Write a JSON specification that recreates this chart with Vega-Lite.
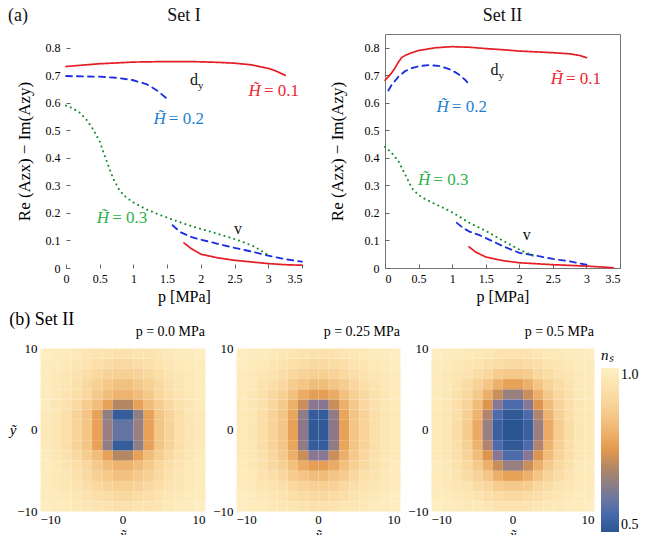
{
"$schema":"https://vega.github.io/schema/vega-lite/v6.json",
"background":"white",
"padding":{"left":8,"top":6,"right":2,"bottom":0},
"config":{
 "font":"Liberation Serif",
 "view":{"stroke":"#777","strokeWidth":1},
 "axis":{"labelFont":"Liberation Serif","titleFont":"Liberation Serif","labelColor":"#000","titleColor":"#000","grid":false,"domain":false,"tickColor":"#666","labelFontSize":12,"titleFontSize":17,"titleFontWeight":"normal","labelOverlap":false},
 "title":{"font":"Liberation Serif","fontWeight":"normal","color":"#000"},
 "legend":{"labelFont":"Liberation Serif","titleFont":"Liberation Serif","labelColor":"#000","titleColor":"#000","titleFontWeight":"normal"}
},
"resolve":{"scale":{"color":"independent","strokeDash":"independent","strokeWidth":"independent"},"legend":{"color":"independent"}},
"spacing":6,
"datasets":{
"lines":[
{"s":"I","c":"r1","h":"0.1","x":0,"y":0.732},{"s":"I","c":"r1","h":"0.1","x":0.25,"y":0.737},{"s":"I","c":"r1","h":"0.1","x":0.5,"y":0.742},{"s":"I","c":"r1","h":"0.1","x":0.75,"y":0.745},{"s":"I","c":"r1","h":"0.1","x":1,"y":0.748},{"s":"I","c":"r1","h":"0.1","x":1.25,"y":0.749},{"s":"I","c":"r1","h":"0.1","x":1.5,"y":0.75},{"s":"I","c":"r1","h":"0.1","x":1.75,"y":0.75},{"s":"I","c":"r1","h":"0.1","x":2,"y":0.749},{"s":"I","c":"r1","h":"0.1","x":2.25,"y":0.747},{"s":"I","c":"r1","h":"0.1","x":2.5,"y":0.744},{"s":"I","c":"r1","h":"0.1","x":2.75,"y":0.738},{"s":"I","c":"r1","h":"0.1","x":3,"y":0.725},{"s":"I","c":"r1","h":"0.1","x":3.1,"y":0.717},{"s":"I","c":"r1","h":"0.1","x":3.25,"y":0.7},
{"s":"I","c":"r2","h":"0.1","x":1.75,"y":0.091},{"s":"I","c":"r2","h":"0.1","x":1.85,"y":0.072},{"s":"I","c":"r2","h":"0.1","x":2,"y":0.05},{"s":"I","c":"r2","h":"0.1","x":2.25,"y":0.037},{"s":"I","c":"r2","h":"0.1","x":2.5,"y":0.028},{"s":"I","c":"r2","h":"0.1","x":2.75,"y":0.022},{"s":"I","c":"r2","h":"0.1","x":3,"y":0.016},{"s":"I","c":"r2","h":"0.1","x":3.25,"y":0.012},{"s":"I","c":"r2","h":"0.1","x":3.5,"y":0.01},
{"s":"I","c":"b1","h":"0.2","x":0,"y":0.697},{"s":"I","c":"b1","h":"0.2","x":0.25,"y":0.696},{"s":"I","c":"b1","h":"0.2","x":0.5,"y":0.695},{"s":"I","c":"b1","h":"0.2","x":0.75,"y":0.691},{"s":"I","c":"b1","h":"0.2","x":1,"y":0.682},{"s":"I","c":"b1","h":"0.2","x":1.2,"y":0.667},{"s":"I","c":"b1","h":"0.2","x":1.35,"y":0.645},{"s":"I","c":"b1","h":"0.2","x":1.5,"y":0.615},
{"s":"I","c":"b2","h":"0.2","x":1.58,"y":0.155},{"s":"I","c":"b2","h":"0.2","x":1.7,"y":0.13},{"s":"I","c":"b2","h":"0.2","x":1.85,"y":0.113},{"s":"I","c":"b2","h":"0.2","x":2,"y":0.103},{"s":"I","c":"b2","h":"0.2","x":2.25,"y":0.088},{"s":"I","c":"b2","h":"0.2","x":2.5,"y":0.073},{"s":"I","c":"b2","h":"0.2","x":2.75,"y":0.06},{"s":"I","c":"b2","h":"0.2","x":3,"y":0.045},{"s":"I","c":"b2","h":"0.2","x":3.25,"y":0.032},{"s":"I","c":"b2","h":"0.2","x":3.5,"y":0.023},
{"s":"I","c":"g","h":"0.3","x":0,"y":0.59},{"s":"I","c":"g","h":"0.3","x":0.1,"y":0.58},{"s":"I","c":"g","h":"0.3","x":0.2,"y":0.565},{"s":"I","c":"g","h":"0.3","x":0.3,"y":0.54},{"s":"I","c":"g","h":"0.3","x":0.4,"y":0.505},{"s":"I","c":"g","h":"0.3","x":0.5,"y":0.46},{"s":"I","c":"g","h":"0.3","x":0.6,"y":0.39},{"s":"I","c":"g","h":"0.3","x":0.7,"y":0.325},{"s":"I","c":"g","h":"0.3","x":0.8,"y":0.28},{"s":"I","c":"g","h":"0.3","x":0.9,"y":0.255},{"s":"I","c":"g","h":"0.3","x":1,"y":0.238},{"s":"I","c":"g","h":"0.3","x":1.2,"y":0.212},{"s":"I","c":"g","h":"0.3","x":1.4,"y":0.192},{"s":"I","c":"g","h":"0.3","x":1.6,"y":0.174},{"s":"I","c":"g","h":"0.3","x":1.8,"y":0.157},{"s":"I","c":"g","h":"0.3","x":2,"y":0.142},{"s":"I","c":"g","h":"0.3","x":2.2,"y":0.128},{"s":"I","c":"g","h":"0.3","x":2.4,"y":0.113},{"s":"I","c":"g","h":"0.3","x":2.6,"y":0.097},{"s":"I","c":"g","h":"0.3","x":2.8,"y":0.077},{"s":"I","c":"g","h":"0.3","x":2.9,"y":0.062},{"s":"I","c":"g","h":"0.3","x":3,"y":0.047},
{"s":"II","c":"r1","h":"0.1","x":0,"y":0.682},{"s":"II","c":"r1","h":"0.1","x":0.05,"y":0.695},{"s":"II","c":"r1","h":"0.1","x":0.1,"y":0.709},{"s":"II","c":"r1","h":"0.1","x":0.15,"y":0.727},{"s":"II","c":"r1","h":"0.1","x":0.2,"y":0.748},{"s":"II","c":"r1","h":"0.1","x":0.25,"y":0.765},{"s":"II","c":"r1","h":"0.1","x":0.3,"y":0.772},{"s":"II","c":"r1","h":"0.1","x":0.4,"y":0.782},{"s":"II","c":"r1","h":"0.1","x":0.5,"y":0.79},{"s":"II","c":"r1","h":"0.1","x":0.75,"y":0.8},{"s":"II","c":"r1","h":"0.1","x":1,"y":0.804},{"s":"II","c":"r1","h":"0.1","x":1.25,"y":0.802},{"s":"II","c":"r1","h":"0.1","x":1.5,"y":0.797},{"s":"II","c":"r1","h":"0.1","x":1.75,"y":0.793},{"s":"II","c":"r1","h":"0.1","x":2,"y":0.788},{"s":"II","c":"r1","h":"0.1","x":2.25,"y":0.785},{"s":"II","c":"r1","h":"0.1","x":2.5,"y":0.782},{"s":"II","c":"r1","h":"0.1","x":2.75,"y":0.778},{"s":"II","c":"r1","h":"0.1","x":2.9,"y":0.772},{"s":"II","c":"r1","h":"0.1","x":3,"y":0.764},
{"s":"II","c":"r2","h":"0.1","x":1.25,"y":0.077},{"s":"II","c":"r2","h":"0.1","x":1.35,"y":0.058},{"s":"II","c":"r2","h":"0.1","x":1.5,"y":0.04},{"s":"II","c":"r2","h":"0.1","x":1.75,"y":0.027},{"s":"II","c":"r2","h":"0.1","x":2,"y":0.019},{"s":"II","c":"r2","h":"0.1","x":2.5,"y":0.012},{"s":"II","c":"r2","h":"0.1","x":3,"y":0.007},{"s":"II","c":"r2","h":"0.1","x":3.4,"y":0.001},
{"s":"II","c":"b1","h":"0.2","x":0.05,"y":0.645},{"s":"II","c":"b1","h":"0.2","x":0.1,"y":0.665},{"s":"II","c":"b1","h":"0.2","x":0.15,"y":0.68},{"s":"II","c":"b1","h":"0.2","x":0.2,"y":0.695},{"s":"II","c":"b1","h":"0.2","x":0.3,"y":0.715},{"s":"II","c":"b1","h":"0.2","x":0.4,"y":0.726},{"s":"II","c":"b1","h":"0.2","x":0.5,"y":0.733},{"s":"II","c":"b1","h":"0.2","x":0.65,"y":0.737},{"s":"II","c":"b1","h":"0.2","x":0.8,"y":0.734},{"s":"II","c":"b1","h":"0.2","x":0.9,"y":0.727},{"s":"II","c":"b1","h":"0.2","x":1,"y":0.718},{"s":"II","c":"b1","h":"0.2","x":1.1,"y":0.703},{"s":"II","c":"b1","h":"0.2","x":1.2,"y":0.682},{"s":"II","c":"b1","h":"0.2","x":1.25,"y":0.667},
{"s":"II","c":"b2","h":"0.2","x":1.07,"y":0.164},{"s":"II","c":"b2","h":"0.2","x":1.15,"y":0.148},{"s":"II","c":"b2","h":"0.2","x":1.25,"y":0.133},{"s":"II","c":"b2","h":"0.2","x":1.4,"y":0.12},{"s":"II","c":"b2","h":"0.2","x":1.5,"y":0.109},{"s":"II","c":"b2","h":"0.2","x":1.75,"y":0.08},{"s":"II","c":"b2","h":"0.2","x":2,"y":0.055},{"s":"II","c":"b2","h":"0.2","x":2.25,"y":0.045},{"s":"II","c":"b2","h":"0.2","x":2.5,"y":0.033},{"s":"II","c":"b2","h":"0.2","x":2.75,"y":0.024},{"s":"II","c":"b2","h":"0.2","x":3,"y":0.012},
{"s":"II","c":"g","h":"0.3","x":0,"y":0.44},{"s":"II","c":"g","h":"0.3","x":0.1,"y":0.418},{"s":"II","c":"g","h":"0.3","x":0.2,"y":0.388},{"s":"II","c":"g","h":"0.3","x":0.3,"y":0.34},{"s":"II","c":"g","h":"0.3","x":0.4,"y":0.29},{"s":"II","c":"g","h":"0.3","x":0.5,"y":0.265},{"s":"II","c":"g","h":"0.3","x":0.6,"y":0.25},{"s":"II","c":"g","h":"0.3","x":0.75,"y":0.232},{"s":"II","c":"g","h":"0.3","x":0.9,"y":0.215},{"s":"II","c":"g","h":"0.3","x":1,"y":0.202},{"s":"II","c":"g","h":"0.3","x":1.1,"y":0.188},{"s":"II","c":"g","h":"0.3","x":1.25,"y":0.165},{"s":"II","c":"g","h":"0.3","x":1.5,"y":0.135},{"s":"II","c":"g","h":"0.3","x":1.75,"y":0.1},{"s":"II","c":"g","h":"0.3","x":2,"y":0.067},{"s":"II","c":"g","h":"0.3","x":2.2,"y":0.045}
],
"labs":[
{"s":"I","k":"H","h":"t0.1","x":2.92,"y":0.644,"v":"= 0.1"},
{"s":"I","k":"H","h":"t0.2","x":1.51,"y":0.542,"v":"= 0.2"},
{"s":"I","k":"H","h":"t0.3","x":0.67,"y":0.182,"v":"= 0.3"},
{"s":"I","k":"d","h":"k","x":1.9,"y":0.684,"v":"d"},
{"s":"I","k":"v","h":"k","x":2.55,"y":0.142,"v":"v"},
{"s":"I","k":"T","h":"k","x":1.75,"y":0.916,"v":"Set I"},
{"s":"I","k":"A","h":"k","x":-0.71,"y":0.916,"v":"(a)"},
{"s":"II","k":"H","h":"t0.1","x":2.68,"y":0.688,"v":"= 0.1"},
{"s":"II","k":"H","h":"t0.2","x":0.98,"y":0.584,"v":"= 0.2"},
{"s":"II","k":"H","h":"t0.3","x":0.705,"y":0.321,"v":"= 0.3"},
{"s":"II","k":"d","h":"k","x":1.63,"y":0.718,"v":"d"},
{"s":"II","k":"v","h":"k","x":2.11,"y":0.121,"v":"v"},
{"s":"II","k":"T","h":"k","x":1.75,"y":0.916,"v":"Set II"}
],
"h1":[
{"x":-10,"y":-10,"n":0.99},{"x":-8.75,"y":-10,"n":0.98},{"x":-7.5,"y":-10,"n":0.98},{"x":-6.25,"y":-10,"n":0.97},{"x":-5,"y":-10,"n":0.96},{"x":-3.75,"y":-10,"n":0.95},{"x":-2.5,"y":-10,"n":0.95},{"x":-1.25,"y":-10,"n":0.94},{"x":0,"y":-10,"n":0.94},{"x":1.25,"y":-10,"n":0.95},{"x":2.5,"y":-10,"n":0.95},{"x":3.75,"y":-10,"n":0.96},{"x":5,"y":-10,"n":0.97},{"x":6.25,"y":-10,"n":0.98},{"x":7.5,"y":-10,"n":0.98},{"x":8.75,"y":-10,"n":0.99},
{"x":-10,"y":-8.75,"n":0.98},{"x":-8.75,"y":-8.75,"n":0.98},{"x":-7.5,"y":-8.75,"n":0.97},{"x":-6.25,"y":-8.75,"n":0.96},{"x":-5,"y":-8.75,"n":0.95},{"x":-3.75,"y":-8.75,"n":0.93},{"x":-2.5,"y":-8.75,"n":0.92},{"x":-1.25,"y":-8.75,"n":0.91},{"x":0,"y":-8.75,"n":0.91},{"x":1.25,"y":-8.75,"n":0.92},{"x":2.5,"y":-8.75,"n":0.93},{"x":3.75,"y":-8.75,"n":0.95},{"x":5,"y":-8.75,"n":0.96},{"x":6.25,"y":-8.75,"n":0.97},{"x":7.5,"y":-8.75,"n":0.98},{"x":8.75,"y":-8.75,"n":0.98},
{"x":-10,"y":-7.5,"n":0.98},{"x":-8.75,"y":-7.5,"n":0.97},{"x":-7.5,"y":-7.5,"n":0.96},{"x":-6.25,"y":-7.5,"n":0.95},{"x":-5,"y":-7.5,"n":0.93},{"x":-3.75,"y":-7.5,"n":0.91},{"x":-2.5,"y":-7.5,"n":0.89},{"x":-1.25,"y":-7.5,"n":0.88},{"x":0,"y":-7.5,"n":0.88},{"x":1.25,"y":-7.5,"n":0.89},{"x":2.5,"y":-7.5,"n":0.91},{"x":3.75,"y":-7.5,"n":0.93},{"x":5,"y":-7.5,"n":0.95},{"x":6.25,"y":-7.5,"n":0.96},{"x":7.5,"y":-7.5,"n":0.97},{"x":8.75,"y":-7.5,"n":0.98},
{"x":-10,"y":-6.25,"n":0.98},{"x":-8.75,"y":-6.25,"n":0.97},{"x":-7.5,"y":-6.25,"n":0.96},{"x":-6.25,"y":-6.25,"n":0.94},{"x":-5,"y":-6.25,"n":0.91},{"x":-3.75,"y":-6.25,"n":0.88},{"x":-2.5,"y":-6.25,"n":0.86},{"x":-1.25,"y":-6.25,"n":0.84},{"x":0,"y":-6.25,"n":0.84},{"x":1.25,"y":-6.25,"n":0.86},{"x":2.5,"y":-6.25,"n":0.88},{"x":3.75,"y":-6.25,"n":0.91},{"x":5,"y":-6.25,"n":0.94},{"x":6.25,"y":-6.25,"n":0.96},{"x":7.5,"y":-6.25,"n":0.97},{"x":8.75,"y":-6.25,"n":0.98},
{"x":-10,"y":-5,"n":0.98},{"x":-8.75,"y":-5,"n":0.97},{"x":-7.5,"y":-5,"n":0.95},{"x":-6.25,"y":-5,"n":0.93},{"x":-5,"y":-5,"n":0.9},{"x":-3.75,"y":-5,"n":0.86},{"x":-2.5,"y":-5,"n":0.83},{"x":-1.25,"y":-5,"n":0.81},{"x":0,"y":-5,"n":0.81},{"x":1.25,"y":-5,"n":0.83},{"x":2.5,"y":-5,"n":0.86},{"x":3.75,"y":-5,"n":0.9},{"x":5,"y":-5,"n":0.93},{"x":6.25,"y":-5,"n":0.95},{"x":7.5,"y":-5,"n":0.97},{"x":8.75,"y":-5,"n":0.98},
{"x":-10,"y":-3.75,"n":0.98},{"x":-8.75,"y":-3.75,"n":0.96},{"x":-7.5,"y":-3.75,"n":0.94},{"x":-6.25,"y":-3.75,"n":0.91},{"x":-5,"y":-3.75,"n":0.87},{"x":-3.75,"y":-3.75,"n":0.83},{"x":-2.5,"y":-3.75,"n":0.77},{"x":-1.25,"y":-3.75,"n":0.7},{"x":0,"y":-3.75,"n":0.7},{"x":1.25,"y":-3.75,"n":0.77},{"x":2.5,"y":-3.75,"n":0.83},{"x":3.75,"y":-3.75,"n":0.87},{"x":5,"y":-3.75,"n":0.91},{"x":6.25,"y":-3.75,"n":0.94},{"x":7.5,"y":-3.75,"n":0.96},{"x":8.75,"y":-3.75,"n":0.98},
{"x":-10,"y":-2.5,"n":0.97},{"x":-8.75,"y":-2.5,"n":0.96},{"x":-7.5,"y":-2.5,"n":0.93},{"x":-6.25,"y":-2.5,"n":0.89},{"x":-5,"y":-2.5,"n":0.85},{"x":-3.75,"y":-2.5,"n":0.77},{"x":-2.5,"y":-2.5,"n":0.65},{"x":-1.25,"y":-2.5,"n":0.52},{"x":0,"y":-2.5,"n":0.52},{"x":1.25,"y":-2.5,"n":0.65},{"x":2.5,"y":-2.5,"n":0.77},{"x":3.75,"y":-2.5,"n":0.85},{"x":5,"y":-2.5,"n":0.89},{"x":6.25,"y":-2.5,"n":0.93},{"x":7.5,"y":-2.5,"n":0.96},{"x":8.75,"y":-2.5,"n":0.97},
{"x":-10,"y":-1.25,"n":0.97},{"x":-8.75,"y":-1.25,"n":0.96},{"x":-7.5,"y":-1.25,"n":0.93},{"x":-6.25,"y":-1.25,"n":0.89},{"x":-5,"y":-1.25,"n":0.85},{"x":-3.75,"y":-1.25,"n":0.77},{"x":-2.5,"y":-1.25,"n":0.66},{"x":-1.25,"y":-1.25,"n":0.59},{"x":0,"y":-1.25,"n":0.59},{"x":1.25,"y":-1.25,"n":0.66},{"x":2.5,"y":-1.25,"n":0.77},{"x":3.75,"y":-1.25,"n":0.85},{"x":5,"y":-1.25,"n":0.89},{"x":6.25,"y":-1.25,"n":0.93},{"x":7.5,"y":-1.25,"n":0.96},{"x":8.75,"y":-1.25,"n":0.97},
{"x":-10,"y":0,"n":0.97},{"x":-8.75,"y":0,"n":0.96},{"x":-7.5,"y":0,"n":0.93},{"x":-6.25,"y":0,"n":0.89},{"x":-5,"y":0,"n":0.85},{"x":-3.75,"y":0,"n":0.77},{"x":-2.5,"y":0,"n":0.66},{"x":-1.25,"y":0,"n":0.59},{"x":0,"y":0,"n":0.59},{"x":1.25,"y":0,"n":0.66},{"x":2.5,"y":0,"n":0.77},{"x":3.75,"y":0,"n":0.85},{"x":5,"y":0,"n":0.89},{"x":6.25,"y":0,"n":0.93},{"x":7.5,"y":0,"n":0.96},{"x":8.75,"y":0,"n":0.97},
{"x":-10,"y":1.25,"n":0.97},{"x":-8.75,"y":1.25,"n":0.96},{"x":-7.5,"y":1.25,"n":0.93},{"x":-6.25,"y":1.25,"n":0.89},{"x":-5,"y":1.25,"n":0.85},{"x":-3.75,"y":1.25,"n":0.77},{"x":-2.5,"y":1.25,"n":0.65},{"x":-1.25,"y":1.25,"n":0.52},{"x":0,"y":1.25,"n":0.52},{"x":1.25,"y":1.25,"n":0.65},{"x":2.5,"y":1.25,"n":0.77},{"x":3.75,"y":1.25,"n":0.85},{"x":5,"y":1.25,"n":0.89},{"x":6.25,"y":1.25,"n":0.93},{"x":7.5,"y":1.25,"n":0.96},{"x":8.75,"y":1.25,"n":0.97},
{"x":-10,"y":2.5,"n":0.98},{"x":-8.75,"y":2.5,"n":0.96},{"x":-7.5,"y":2.5,"n":0.94},{"x":-6.25,"y":2.5,"n":0.91},{"x":-5,"y":2.5,"n":0.87},{"x":-3.75,"y":2.5,"n":0.83},{"x":-2.5,"y":2.5,"n":0.77},{"x":-1.25,"y":2.5,"n":0.7},{"x":0,"y":2.5,"n":0.7},{"x":1.25,"y":2.5,"n":0.77},{"x":2.5,"y":2.5,"n":0.83},{"x":3.75,"y":2.5,"n":0.87},{"x":5,"y":2.5,"n":0.91},{"x":6.25,"y":2.5,"n":0.94},{"x":7.5,"y":2.5,"n":0.96},{"x":8.75,"y":2.5,"n":0.98},
{"x":-10,"y":3.75,"n":0.98},{"x":-8.75,"y":3.75,"n":0.97},{"x":-7.5,"y":3.75,"n":0.95},{"x":-6.25,"y":3.75,"n":0.93},{"x":-5,"y":3.75,"n":0.9},{"x":-3.75,"y":3.75,"n":0.86},{"x":-2.5,"y":3.75,"n":0.83},{"x":-1.25,"y":3.75,"n":0.81},{"x":0,"y":3.75,"n":0.81},{"x":1.25,"y":3.75,"n":0.83},{"x":2.5,"y":3.75,"n":0.86},{"x":3.75,"y":3.75,"n":0.9},{"x":5,"y":3.75,"n":0.93},{"x":6.25,"y":3.75,"n":0.95},{"x":7.5,"y":3.75,"n":0.97},{"x":8.75,"y":3.75,"n":0.98},
{"x":-10,"y":5,"n":0.98},{"x":-8.75,"y":5,"n":0.97},{"x":-7.5,"y":5,"n":0.96},{"x":-6.25,"y":5,"n":0.94},{"x":-5,"y":5,"n":0.91},{"x":-3.75,"y":5,"n":0.88},{"x":-2.5,"y":5,"n":0.86},{"x":-1.25,"y":5,"n":0.84},{"x":0,"y":5,"n":0.84},{"x":1.25,"y":5,"n":0.86},{"x":2.5,"y":5,"n":0.88},{"x":3.75,"y":5,"n":0.91},{"x":5,"y":5,"n":0.94},{"x":6.25,"y":5,"n":0.96},{"x":7.5,"y":5,"n":0.97},{"x":8.75,"y":5,"n":0.98},
{"x":-10,"y":6.25,"n":0.98},{"x":-8.75,"y":6.25,"n":0.97},{"x":-7.5,"y":6.25,"n":0.96},{"x":-6.25,"y":6.25,"n":0.95},{"x":-5,"y":6.25,"n":0.93},{"x":-3.75,"y":6.25,"n":0.91},{"x":-2.5,"y":6.25,"n":0.89},{"x":-1.25,"y":6.25,"n":0.88},{"x":0,"y":6.25,"n":0.88},{"x":1.25,"y":6.25,"n":0.89},{"x":2.5,"y":6.25,"n":0.91},{"x":3.75,"y":6.25,"n":0.93},{"x":5,"y":6.25,"n":0.95},{"x":6.25,"y":6.25,"n":0.96},{"x":7.5,"y":6.25,"n":0.97},{"x":8.75,"y":6.25,"n":0.98},
{"x":-10,"y":7.5,"n":0.98},{"x":-8.75,"y":7.5,"n":0.98},{"x":-7.5,"y":7.5,"n":0.97},{"x":-6.25,"y":7.5,"n":0.96},{"x":-5,"y":7.5,"n":0.95},{"x":-3.75,"y":7.5,"n":0.93},{"x":-2.5,"y":7.5,"n":0.92},{"x":-1.25,"y":7.5,"n":0.91},{"x":0,"y":7.5,"n":0.91},{"x":1.25,"y":7.5,"n":0.92},{"x":2.5,"y":7.5,"n":0.93},{"x":3.75,"y":7.5,"n":0.95},{"x":5,"y":7.5,"n":0.96},{"x":6.25,"y":7.5,"n":0.97},{"x":7.5,"y":7.5,"n":0.98},{"x":8.75,"y":7.5,"n":0.98},
{"x":-10,"y":8.75,"n":0.99},{"x":-8.75,"y":8.75,"n":0.98},{"x":-7.5,"y":8.75,"n":0.98},{"x":-6.25,"y":8.75,"n":0.97},{"x":-5,"y":8.75,"n":0.96},{"x":-3.75,"y":8.75,"n":0.95},{"x":-2.5,"y":8.75,"n":0.95},{"x":-1.25,"y":8.75,"n":0.94},{"x":0,"y":8.75,"n":0.94},{"x":1.25,"y":8.75,"n":0.95},{"x":2.5,"y":8.75,"n":0.95},{"x":3.75,"y":8.75,"n":0.96},{"x":5,"y":8.75,"n":0.97},{"x":6.25,"y":8.75,"n":0.98},{"x":7.5,"y":8.75,"n":0.98},{"x":8.75,"y":8.75,"n":0.99}
],
"h2":[
{"x":-10,"y":-10,"n":0.99},{"x":-8.75,"y":-10,"n":0.98},{"x":-7.5,"y":-10,"n":0.98},{"x":-6.25,"y":-10,"n":0.97},{"x":-5,"y":-10,"n":0.96},{"x":-3.75,"y":-10,"n":0.96},{"x":-2.5,"y":-10,"n":0.95},{"x":-1.25,"y":-10,"n":0.94},{"x":0,"y":-10,"n":0.94},{"x":1.25,"y":-10,"n":0.95},{"x":2.5,"y":-10,"n":0.96},{"x":3.75,"y":-10,"n":0.96},{"x":5,"y":-10,"n":0.97},{"x":6.25,"y":-10,"n":0.98},{"x":7.5,"y":-10,"n":0.98},{"x":8.75,"y":-10,"n":0.99},
{"x":-10,"y":-8.75,"n":0.99},{"x":-8.75,"y":-8.75,"n":0.98},{"x":-7.5,"y":-8.75,"n":0.97},{"x":-6.25,"y":-8.75,"n":0.96},{"x":-5,"y":-8.75,"n":0.95},{"x":-3.75,"y":-8.75,"n":0.93},{"x":-2.5,"y":-8.75,"n":0.92},{"x":-1.25,"y":-8.75,"n":0.91},{"x":0,"y":-8.75,"n":0.91},{"x":1.25,"y":-8.75,"n":0.92},{"x":2.5,"y":-8.75,"n":0.93},{"x":3.75,"y":-8.75,"n":0.95},{"x":5,"y":-8.75,"n":0.96},{"x":6.25,"y":-8.75,"n":0.97},{"x":7.5,"y":-8.75,"n":0.98},{"x":8.75,"y":-8.75,"n":0.99},
{"x":-10,"y":-7.5,"n":0.98},{"x":-8.75,"y":-7.5,"n":0.97},{"x":-7.5,"y":-7.5,"n":0.96},{"x":-6.25,"y":-7.5,"n":0.95},{"x":-5,"y":-7.5,"n":0.93},{"x":-3.75,"y":-7.5,"n":0.91},{"x":-2.5,"y":-7.5,"n":0.89},{"x":-1.25,"y":-7.5,"n":0.88},{"x":0,"y":-7.5,"n":0.88},{"x":1.25,"y":-7.5,"n":0.89},{"x":2.5,"y":-7.5,"n":0.91},{"x":3.75,"y":-7.5,"n":0.93},{"x":5,"y":-7.5,"n":0.95},{"x":6.25,"y":-7.5,"n":0.96},{"x":7.5,"y":-7.5,"n":0.97},{"x":8.75,"y":-7.5,"n":0.98},
{"x":-10,"y":-6.25,"n":0.98},{"x":-8.75,"y":-6.25,"n":0.97},{"x":-7.5,"y":-6.25,"n":0.95},{"x":-6.25,"y":-6.25,"n":0.93},{"x":-5,"y":-6.25,"n":0.9},{"x":-3.75,"y":-6.25,"n":0.87},{"x":-2.5,"y":-6.25,"n":0.85},{"x":-1.25,"y":-6.25,"n":0.83},{"x":0,"y":-6.25,"n":0.83},{"x":1.25,"y":-6.25,"n":0.85},{"x":2.5,"y":-6.25,"n":0.87},{"x":3.75,"y":-6.25,"n":0.9},{"x":5,"y":-6.25,"n":0.93},{"x":6.25,"y":-6.25,"n":0.95},{"x":7.5,"y":-6.25,"n":0.97},{"x":8.75,"y":-6.25,"n":0.98},
{"x":-10,"y":-5,"n":0.98},{"x":-8.75,"y":-5,"n":0.96},{"x":-7.5,"y":-5,"n":0.94},{"x":-6.25,"y":-5,"n":0.91},{"x":-5,"y":-5,"n":0.88},{"x":-3.75,"y":-5,"n":0.84},{"x":-2.5,"y":-5,"n":0.79},{"x":-1.25,"y":-5,"n":0.76},{"x":0,"y":-5,"n":0.76},{"x":1.25,"y":-5,"n":0.79},{"x":2.5,"y":-5,"n":0.84},{"x":3.75,"y":-5,"n":0.88},{"x":5,"y":-5,"n":0.91},{"x":6.25,"y":-5,"n":0.94},{"x":7.5,"y":-5,"n":0.96},{"x":8.75,"y":-5,"n":0.98},
{"x":-10,"y":-3.75,"n":0.97},{"x":-8.75,"y":-3.75,"n":0.96},{"x":-7.5,"y":-3.75,"n":0.94},{"x":-6.25,"y":-3.75,"n":0.9},{"x":-5,"y":-3.75,"n":0.86},{"x":-3.75,"y":-3.75,"n":0.8},{"x":-2.5,"y":-3.75,"n":0.72},{"x":-1.25,"y":-3.75,"n":0.62},{"x":0,"y":-3.75,"n":0.62},{"x":1.25,"y":-3.75,"n":0.72},{"x":2.5,"y":-3.75,"n":0.8},{"x":3.75,"y":-3.75,"n":0.86},{"x":5,"y":-3.75,"n":0.9},{"x":6.25,"y":-3.75,"n":0.94},{"x":7.5,"y":-3.75,"n":0.96},{"x":8.75,"y":-3.75,"n":0.97},
{"x":-10,"y":-2.5,"n":0.97},{"x":-8.75,"y":-2.5,"n":0.96},{"x":-7.5,"y":-2.5,"n":0.93},{"x":-6.25,"y":-2.5,"n":0.89},{"x":-5,"y":-2.5,"n":0.85},{"x":-3.75,"y":-2.5,"n":0.78},{"x":-2.5,"y":-2.5,"n":0.64},{"x":-1.25,"y":-2.5,"n":0.52},{"x":0,"y":-2.5,"n":0.52},{"x":1.25,"y":-2.5,"n":0.64},{"x":2.5,"y":-2.5,"n":0.78},{"x":3.75,"y":-2.5,"n":0.85},{"x":5,"y":-2.5,"n":0.89},{"x":6.25,"y":-2.5,"n":0.93},{"x":7.5,"y":-2.5,"n":0.96},{"x":8.75,"y":-2.5,"n":0.97},
{"x":-10,"y":-1.25,"n":0.97},{"x":-8.75,"y":-1.25,"n":0.96},{"x":-7.5,"y":-1.25,"n":0.93},{"x":-6.25,"y":-1.25,"n":0.89},{"x":-5,"y":-1.25,"n":0.85},{"x":-3.75,"y":-1.25,"n":0.77},{"x":-2.5,"y":-1.25,"n":0.63},{"x":-1.25,"y":-1.25,"n":0.51},{"x":0,"y":-1.25,"n":0.51},{"x":1.25,"y":-1.25,"n":0.63},{"x":2.5,"y":-1.25,"n":0.77},{"x":3.75,"y":-1.25,"n":0.85},{"x":5,"y":-1.25,"n":0.89},{"x":6.25,"y":-1.25,"n":0.93},{"x":7.5,"y":-1.25,"n":0.96},{"x":8.75,"y":-1.25,"n":0.97},
{"x":-10,"y":0,"n":0.97},{"x":-8.75,"y":0,"n":0.96},{"x":-7.5,"y":0,"n":0.93},{"x":-6.25,"y":0,"n":0.89},{"x":-5,"y":0,"n":0.85},{"x":-3.75,"y":0,"n":0.77},{"x":-2.5,"y":0,"n":0.63},{"x":-1.25,"y":0,"n":0.51},{"x":0,"y":0,"n":0.51},{"x":1.25,"y":0,"n":0.63},{"x":2.5,"y":0,"n":0.77},{"x":3.75,"y":0,"n":0.85},{"x":5,"y":0,"n":0.89},{"x":6.25,"y":0,"n":0.93},{"x":7.5,"y":0,"n":0.96},{"x":8.75,"y":0,"n":0.97},
{"x":-10,"y":1.25,"n":0.97},{"x":-8.75,"y":1.25,"n":0.96},{"x":-7.5,"y":1.25,"n":0.93},{"x":-6.25,"y":1.25,"n":0.89},{"x":-5,"y":1.25,"n":0.85},{"x":-3.75,"y":1.25,"n":0.78},{"x":-2.5,"y":1.25,"n":0.64},{"x":-1.25,"y":1.25,"n":0.52},{"x":0,"y":1.25,"n":0.52},{"x":1.25,"y":1.25,"n":0.64},{"x":2.5,"y":1.25,"n":0.78},{"x":3.75,"y":1.25,"n":0.85},{"x":5,"y":1.25,"n":0.89},{"x":6.25,"y":1.25,"n":0.93},{"x":7.5,"y":1.25,"n":0.96},{"x":8.75,"y":1.25,"n":0.97},
{"x":-10,"y":2.5,"n":0.97},{"x":-8.75,"y":2.5,"n":0.96},{"x":-7.5,"y":2.5,"n":0.94},{"x":-6.25,"y":2.5,"n":0.9},{"x":-5,"y":2.5,"n":0.86},{"x":-3.75,"y":2.5,"n":0.8},{"x":-2.5,"y":2.5,"n":0.72},{"x":-1.25,"y":2.5,"n":0.62},{"x":0,"y":2.5,"n":0.62},{"x":1.25,"y":2.5,"n":0.72},{"x":2.5,"y":2.5,"n":0.8},{"x":3.75,"y":2.5,"n":0.86},{"x":5,"y":2.5,"n":0.9},{"x":6.25,"y":2.5,"n":0.94},{"x":7.5,"y":2.5,"n":0.96},{"x":8.75,"y":2.5,"n":0.97},
{"x":-10,"y":3.75,"n":0.98},{"x":-8.75,"y":3.75,"n":0.96},{"x":-7.5,"y":3.75,"n":0.94},{"x":-6.25,"y":3.75,"n":0.91},{"x":-5,"y":3.75,"n":0.88},{"x":-3.75,"y":3.75,"n":0.84},{"x":-2.5,"y":3.75,"n":0.79},{"x":-1.25,"y":3.75,"n":0.76},{"x":0,"y":3.75,"n":0.76},{"x":1.25,"y":3.75,"n":0.79},{"x":2.5,"y":3.75,"n":0.84},{"x":3.75,"y":3.75,"n":0.88},{"x":5,"y":3.75,"n":0.91},{"x":6.25,"y":3.75,"n":0.94},{"x":7.5,"y":3.75,"n":0.96},{"x":8.75,"y":3.75,"n":0.98},
{"x":-10,"y":5,"n":0.98},{"x":-8.75,"y":5,"n":0.97},{"x":-7.5,"y":5,"n":0.95},{"x":-6.25,"y":5,"n":0.93},{"x":-5,"y":5,"n":0.9},{"x":-3.75,"y":5,"n":0.87},{"x":-2.5,"y":5,"n":0.85},{"x":-1.25,"y":5,"n":0.83},{"x":0,"y":5,"n":0.83},{"x":1.25,"y":5,"n":0.85},{"x":2.5,"y":5,"n":0.87},{"x":3.75,"y":5,"n":0.9},{"x":5,"y":5,"n":0.93},{"x":6.25,"y":5,"n":0.95},{"x":7.5,"y":5,"n":0.97},{"x":8.75,"y":5,"n":0.98},
{"x":-10,"y":6.25,"n":0.98},{"x":-8.75,"y":6.25,"n":0.97},{"x":-7.5,"y":6.25,"n":0.96},{"x":-6.25,"y":6.25,"n":0.95},{"x":-5,"y":6.25,"n":0.93},{"x":-3.75,"y":6.25,"n":0.91},{"x":-2.5,"y":6.25,"n":0.89},{"x":-1.25,"y":6.25,"n":0.88},{"x":0,"y":6.25,"n":0.88},{"x":1.25,"y":6.25,"n":0.89},{"x":2.5,"y":6.25,"n":0.91},{"x":3.75,"y":6.25,"n":0.93},{"x":5,"y":6.25,"n":0.95},{"x":6.25,"y":6.25,"n":0.96},{"x":7.5,"y":6.25,"n":0.97},{"x":8.75,"y":6.25,"n":0.98},
{"x":-10,"y":7.5,"n":0.99},{"x":-8.75,"y":7.5,"n":0.98},{"x":-7.5,"y":7.5,"n":0.97},{"x":-6.25,"y":7.5,"n":0.96},{"x":-5,"y":7.5,"n":0.95},{"x":-3.75,"y":7.5,"n":0.93},{"x":-2.5,"y":7.5,"n":0.92},{"x":-1.25,"y":7.5,"n":0.91},{"x":0,"y":7.5,"n":0.91},{"x":1.25,"y":7.5,"n":0.92},{"x":2.5,"y":7.5,"n":0.93},{"x":3.75,"y":7.5,"n":0.95},{"x":5,"y":7.5,"n":0.96},{"x":6.25,"y":7.5,"n":0.97},{"x":7.5,"y":7.5,"n":0.98},{"x":8.75,"y":7.5,"n":0.99},
{"x":-10,"y":8.75,"n":0.99},{"x":-8.75,"y":8.75,"n":0.98},{"x":-7.5,"y":8.75,"n":0.98},{"x":-6.25,"y":8.75,"n":0.97},{"x":-5,"y":8.75,"n":0.96},{"x":-3.75,"y":8.75,"n":0.96},{"x":-2.5,"y":8.75,"n":0.95},{"x":-1.25,"y":8.75,"n":0.94},{"x":0,"y":8.75,"n":0.94},{"x":1.25,"y":8.75,"n":0.95},{"x":2.5,"y":8.75,"n":0.96},{"x":3.75,"y":8.75,"n":0.96},{"x":5,"y":8.75,"n":0.97},{"x":6.25,"y":8.75,"n":0.98},{"x":7.5,"y":8.75,"n":0.98},{"x":8.75,"y":8.75,"n":0.99}
],
"h3":[
{"x":-10,"y":-10,"n":0.99},{"x":-8.75,"y":-10,"n":0.98},{"x":-7.5,"y":-10,"n":0.98},{"x":-6.25,"y":-10,"n":0.97},{"x":-5,"y":-10,"n":0.97},{"x":-3.75,"y":-10,"n":0.96},{"x":-2.5,"y":-10,"n":0.95},{"x":-1.25,"y":-10,"n":0.95},{"x":0,"y":-10,"n":0.95},{"x":1.25,"y":-10,"n":0.95},{"x":2.5,"y":-10,"n":0.96},{"x":3.75,"y":-10,"n":0.97},{"x":5,"y":-10,"n":0.97},{"x":6.25,"y":-10,"n":0.98},{"x":7.5,"y":-10,"n":0.98},{"x":8.75,"y":-10,"n":0.99},
{"x":-10,"y":-8.75,"n":0.98},{"x":-8.75,"y":-8.75,"n":0.98},{"x":-7.5,"y":-8.75,"n":0.97},{"x":-6.25,"y":-8.75,"n":0.96},{"x":-5,"y":-8.75,"n":0.95},{"x":-3.75,"y":-8.75,"n":0.93},{"x":-2.5,"y":-8.75,"n":0.92},{"x":-1.25,"y":-8.75,"n":0.91},{"x":0,"y":-8.75,"n":0.91},{"x":1.25,"y":-8.75,"n":0.92},{"x":2.5,"y":-8.75,"n":0.93},{"x":3.75,"y":-8.75,"n":0.95},{"x":5,"y":-8.75,"n":0.96},{"x":6.25,"y":-8.75,"n":0.97},{"x":7.5,"y":-8.75,"n":0.98},{"x":8.75,"y":-8.75,"n":0.98},
{"x":-10,"y":-7.5,"n":0.98},{"x":-8.75,"y":-7.5,"n":0.97},{"x":-7.5,"y":-7.5,"n":0.96},{"x":-6.25,"y":-7.5,"n":0.95},{"x":-5,"y":-7.5,"n":0.92},{"x":-3.75,"y":-7.5,"n":0.9},{"x":-2.5,"y":-7.5,"n":0.87},{"x":-1.25,"y":-7.5,"n":0.86},{"x":0,"y":-7.5,"n":0.86},{"x":1.25,"y":-7.5,"n":0.87},{"x":2.5,"y":-7.5,"n":0.9},{"x":3.75,"y":-7.5,"n":0.92},{"x":5,"y":-7.5,"n":0.95},{"x":6.25,"y":-7.5,"n":0.96},{"x":7.5,"y":-7.5,"n":0.97},{"x":8.75,"y":-7.5,"n":0.98},
{"x":-10,"y":-6.25,"n":0.98},{"x":-8.75,"y":-6.25,"n":0.97},{"x":-7.5,"y":-6.25,"n":0.95},{"x":-6.25,"y":-6.25,"n":0.92},{"x":-5,"y":-6.25,"n":0.89},{"x":-3.75,"y":-6.25,"n":0.85},{"x":-2.5,"y":-6.25,"n":0.8},{"x":-1.25,"y":-6.25,"n":0.77},{"x":0,"y":-6.25,"n":0.77},{"x":1.25,"y":-6.25,"n":0.8},{"x":2.5,"y":-6.25,"n":0.85},{"x":3.75,"y":-6.25,"n":0.89},{"x":5,"y":-6.25,"n":0.92},{"x":6.25,"y":-6.25,"n":0.95},{"x":7.5,"y":-6.25,"n":0.97},{"x":8.75,"y":-6.25,"n":0.98},
{"x":-10,"y":-5,"n":0.98},{"x":-8.75,"y":-5,"n":0.97},{"x":-7.5,"y":-5,"n":0.94},{"x":-6.25,"y":-5,"n":0.91},{"x":-5,"y":-5,"n":0.86},{"x":-3.75,"y":-5,"n":0.8},{"x":-2.5,"y":-5,"n":0.72},{"x":-1.25,"y":-5,"n":0.66},{"x":0,"y":-5,"n":0.66},{"x":1.25,"y":-5,"n":0.72},{"x":2.5,"y":-5,"n":0.8},{"x":3.75,"y":-5,"n":0.86},{"x":5,"y":-5,"n":0.91},{"x":6.25,"y":-5,"n":0.94},{"x":7.5,"y":-5,"n":0.97},{"x":8.75,"y":-5,"n":0.98},
{"x":-10,"y":-3.75,"n":0.97},{"x":-8.75,"y":-3.75,"n":0.96},{"x":-7.5,"y":-3.75,"n":0.93},{"x":-6.25,"y":-3.75,"n":0.89},{"x":-5,"y":-3.75,"n":0.83},{"x":-3.75,"y":-3.75,"n":0.74},{"x":-2.5,"y":-3.75,"n":0.62},{"x":-1.25,"y":-3.75,"n":0.56},{"x":0,"y":-3.75,"n":0.56},{"x":1.25,"y":-3.75,"n":0.62},{"x":2.5,"y":-3.75,"n":0.74},{"x":3.75,"y":-3.75,"n":0.83},{"x":5,"y":-3.75,"n":0.89},{"x":6.25,"y":-3.75,"n":0.93},{"x":7.5,"y":-3.75,"n":0.96},{"x":8.75,"y":-3.75,"n":0.97},
{"x":-10,"y":-2.5,"n":0.97},{"x":-8.75,"y":-2.5,"n":0.96},{"x":-7.5,"y":-2.5,"n":0.93},{"x":-6.25,"y":-2.5,"n":0.88},{"x":-5,"y":-2.5,"n":0.81},{"x":-3.75,"y":-2.5,"n":0.69},{"x":-2.5,"y":-2.5,"n":0.56},{"x":-1.25,"y":-2.5,"n":0.51},{"x":0,"y":-2.5,"n":0.51},{"x":1.25,"y":-2.5,"n":0.56},{"x":2.5,"y":-2.5,"n":0.69},{"x":3.75,"y":-2.5,"n":0.81},{"x":5,"y":-2.5,"n":0.88},{"x":6.25,"y":-2.5,"n":0.93},{"x":7.5,"y":-2.5,"n":0.96},{"x":8.75,"y":-2.5,"n":0.97},
{"x":-10,"y":-1.25,"n":0.97},{"x":-8.75,"y":-1.25,"n":0.96},{"x":-7.5,"y":-1.25,"n":0.92},{"x":-6.25,"y":-1.25,"n":0.87},{"x":-5,"y":-1.25,"n":0.79},{"x":-3.75,"y":-1.25,"n":0.66},{"x":-2.5,"y":-1.25,"n":0.53},{"x":-1.25,"y":-1.25,"n":0.5},{"x":0,"y":-1.25,"n":0.5},{"x":1.25,"y":-1.25,"n":0.53},{"x":2.5,"y":-1.25,"n":0.66},{"x":3.75,"y":-1.25,"n":0.79},{"x":5,"y":-1.25,"n":0.87},{"x":6.25,"y":-1.25,"n":0.92},{"x":7.5,"y":-1.25,"n":0.96},{"x":8.75,"y":-1.25,"n":0.97},
{"x":-10,"y":0,"n":0.97},{"x":-8.75,"y":0,"n":0.96},{"x":-7.5,"y":0,"n":0.92},{"x":-6.25,"y":0,"n":0.87},{"x":-5,"y":0,"n":0.79},{"x":-3.75,"y":0,"n":0.66},{"x":-2.5,"y":0,"n":0.53},{"x":-1.25,"y":0,"n":0.5},{"x":0,"y":0,"n":0.5},{"x":1.25,"y":0,"n":0.53},{"x":2.5,"y":0,"n":0.66},{"x":3.75,"y":0,"n":0.79},{"x":5,"y":0,"n":0.87},{"x":6.25,"y":0,"n":0.92},{"x":7.5,"y":0,"n":0.96},{"x":8.75,"y":0,"n":0.97},
{"x":-10,"y":1.25,"n":0.97},{"x":-8.75,"y":1.25,"n":0.96},{"x":-7.5,"y":1.25,"n":0.93},{"x":-6.25,"y":1.25,"n":0.88},{"x":-5,"y":1.25,"n":0.81},{"x":-3.75,"y":1.25,"n":0.69},{"x":-2.5,"y":1.25,"n":0.56},{"x":-1.25,"y":1.25,"n":0.51},{"x":0,"y":1.25,"n":0.51},{"x":1.25,"y":1.25,"n":0.56},{"x":2.5,"y":1.25,"n":0.69},{"x":3.75,"y":1.25,"n":0.81},{"x":5,"y":1.25,"n":0.88},{"x":6.25,"y":1.25,"n":0.93},{"x":7.5,"y":1.25,"n":0.96},{"x":8.75,"y":1.25,"n":0.97},
{"x":-10,"y":2.5,"n":0.97},{"x":-8.75,"y":2.5,"n":0.96},{"x":-7.5,"y":2.5,"n":0.93},{"x":-6.25,"y":2.5,"n":0.89},{"x":-5,"y":2.5,"n":0.83},{"x":-3.75,"y":2.5,"n":0.74},{"x":-2.5,"y":2.5,"n":0.62},{"x":-1.25,"y":2.5,"n":0.56},{"x":0,"y":2.5,"n":0.56},{"x":1.25,"y":2.5,"n":0.62},{"x":2.5,"y":2.5,"n":0.74},{"x":3.75,"y":2.5,"n":0.83},{"x":5,"y":2.5,"n":0.89},{"x":6.25,"y":2.5,"n":0.93},{"x":7.5,"y":2.5,"n":0.96},{"x":8.75,"y":2.5,"n":0.97},
{"x":-10,"y":3.75,"n":0.98},{"x":-8.75,"y":3.75,"n":0.97},{"x":-7.5,"y":3.75,"n":0.94},{"x":-6.25,"y":3.75,"n":0.91},{"x":-5,"y":3.75,"n":0.86},{"x":-3.75,"y":3.75,"n":0.8},{"x":-2.5,"y":3.75,"n":0.72},{"x":-1.25,"y":3.75,"n":0.66},{"x":0,"y":3.75,"n":0.66},{"x":1.25,"y":3.75,"n":0.72},{"x":2.5,"y":3.75,"n":0.8},{"x":3.75,"y":3.75,"n":0.86},{"x":5,"y":3.75,"n":0.91},{"x":6.25,"y":3.75,"n":0.94},{"x":7.5,"y":3.75,"n":0.97},{"x":8.75,"y":3.75,"n":0.98},
{"x":-10,"y":5,"n":0.98},{"x":-8.75,"y":5,"n":0.97},{"x":-7.5,"y":5,"n":0.95},{"x":-6.25,"y":5,"n":0.92},{"x":-5,"y":5,"n":0.89},{"x":-3.75,"y":5,"n":0.85},{"x":-2.5,"y":5,"n":0.8},{"x":-1.25,"y":5,"n":0.77},{"x":0,"y":5,"n":0.77},{"x":1.25,"y":5,"n":0.8},{"x":2.5,"y":5,"n":0.85},{"x":3.75,"y":5,"n":0.89},{"x":5,"y":5,"n":0.92},{"x":6.25,"y":5,"n":0.95},{"x":7.5,"y":5,"n":0.97},{"x":8.75,"y":5,"n":0.98},
{"x":-10,"y":6.25,"n":0.98},{"x":-8.75,"y":6.25,"n":0.97},{"x":-7.5,"y":6.25,"n":0.96},{"x":-6.25,"y":6.25,"n":0.95},{"x":-5,"y":6.25,"n":0.92},{"x":-3.75,"y":6.25,"n":0.9},{"x":-2.5,"y":6.25,"n":0.87},{"x":-1.25,"y":6.25,"n":0.86},{"x":0,"y":6.25,"n":0.86},{"x":1.25,"y":6.25,"n":0.87},{"x":2.5,"y":6.25,"n":0.9},{"x":3.75,"y":6.25,"n":0.92},{"x":5,"y":6.25,"n":0.95},{"x":6.25,"y":6.25,"n":0.96},{"x":7.5,"y":6.25,"n":0.97},{"x":8.75,"y":6.25,"n":0.98},
{"x":-10,"y":7.5,"n":0.98},{"x":-8.75,"y":7.5,"n":0.98},{"x":-7.5,"y":7.5,"n":0.97},{"x":-6.25,"y":7.5,"n":0.96},{"x":-5,"y":7.5,"n":0.95},{"x":-3.75,"y":7.5,"n":0.93},{"x":-2.5,"y":7.5,"n":0.92},{"x":-1.25,"y":7.5,"n":0.91},{"x":0,"y":7.5,"n":0.91},{"x":1.25,"y":7.5,"n":0.92},{"x":2.5,"y":7.5,"n":0.93},{"x":3.75,"y":7.5,"n":0.95},{"x":5,"y":7.5,"n":0.96},{"x":6.25,"y":7.5,"n":0.97},{"x":7.5,"y":7.5,"n":0.98},{"x":8.75,"y":7.5,"n":0.98},
{"x":-10,"y":8.75,"n":0.99},{"x":-8.75,"y":8.75,"n":0.98},{"x":-7.5,"y":8.75,"n":0.98},{"x":-6.25,"y":8.75,"n":0.97},{"x":-5,"y":8.75,"n":0.97},{"x":-3.75,"y":8.75,"n":0.96},{"x":-2.5,"y":8.75,"n":0.95},{"x":-1.25,"y":8.75,"n":0.95},{"x":0,"y":8.75,"n":0.95},{"x":1.25,"y":8.75,"n":0.95},{"x":2.5,"y":8.75,"n":0.96},{"x":3.75,"y":8.75,"n":0.97},{"x":5,"y":8.75,"n":0.97},{"x":6.25,"y":8.75,"n":0.98},{"x":7.5,"y":8.75,"n":0.98},{"x":8.75,"y":8.75,"n":0.99}
]
},
"vconcat":[
{"hconcat":[
 {"width":262,"height":234,"view":{"stroke":null},
  "encoding":{
   "x":{"field":"x","type":"quantitative","scale":{"domain":[-0.385,3.5],"nice":false,"zero":false},"axis":{"values":[0,0.5,1,1.5,2,2.5,3,3.5],"format":"~g","title":"p [MPa]","titleX":144,"tickSize":-4,"labelPadding":9,"titlePadding":4,"titleFontSize":16}},
   "y":{"field":"y","type":"quantitative","scale":{"domain":[0,0.85],"nice":false},"axis":{"values":[0,0.1,0.2,0.3,0.4,0.5,0.6,0.7,0.8],"labelExpr":"datum.value==0?'0':format(datum.value,'.1f')","title":"Re (Azx) \u2212 Im(Azy)","offset":-26,"tickSize":-4,"labelPadding":10,"titlePadding":12}},
   "color":{"field":"h","type":"nominal","scale":{"domain":["0.1","0.2","0.3","t0.1","t0.2","t0.3","k"],"range":["#E41E26","#1B2FE0","#168C2D","#EE2430","#1F7FCF","#2DB24B","#111111"]},"legend":null}},
  "layer":[
   {"data":{"name":"lines"},"transform":[{"filter":"datum.s=='I'"}],
    "mark":{"type":"line","strokeCap":"round"},
    "encoding":{
     "strokeDash":{"field":"h","type":"nominal","scale":{"domain":["0.1","0.2","0.3"],"range":[[1,0],[6,5],[0.1,5]]},"legend":null},
     "strokeWidth":{"field":"h","type":"ordinal","scale":{"domain":["0.1","0.2","0.3"],"range":[1.7,2,2.6]},"legend":null},
     "detail":{"field":"c"}}},
   {"data":{"name":"labs"},"transform":[{"filter":"datum.s=='I' && datum.k=='H'"}],
    "mark":{"type":"text","text":"H\u0303","fontStyle":"italic","fontSize":17,"align":"right","baseline":"middle","dx":-2}},
   {"data":{"name":"labs"},"transform":[{"filter":"datum.s=='I' && datum.k=='H'"}],
    "mark":{"type":"text","fontSize":17,"align":"left","baseline":"middle","dx":1},
    "encoding":{"text":{"field":"v"}}},
   {"data":{"name":"labs"},"transform":[{"filter":"datum.s=='I' && (datum.k=='d' || datum.k=='v')"}],
    "mark":{"type":"text","fontSize":16,"align":"center","baseline":"middle"},
    "encoding":{"text":{"field":"v"}}},
   {"data":{"name":"labs"},"transform":[{"filter":"datum.s=='I' && datum.k=='d'"}],
    "mark":{"type":"text","text":"y","fontSize":11,"align":"left","baseline":"middle","dx":4,"dy":6}},
   {"data":{"name":"labs"},"transform":[{"filter":"datum.s=='I' && (datum.k=='T' || datum.k=='A')"}],
    "mark":{"type":"text","fontSize":18,"align":"center","baseline":"middle"},
    "encoding":{"text":{"field":"v"}}}
  ]},
 {"width":235,"height":234,"view":{"stroke":"#777"},
  "encoding":{
   "x":{"field":"x","type":"quantitative","scale":{"domain":[0,3.5],"nice":false,"zero":false},"axis":{"values":[0,0.5,1,1.5,2,2.5,3,3.5],"format":"~g","title":"p [MPa]","tickSize":-4,"labelPadding":9,"titlePadding":4,"titleFontSize":16}},
   "y":{"field":"y","type":"quantitative","scale":{"domain":[0,0.85],"nice":false},"axis":{"values":[0,0.1,0.2,0.3,0.4,0.5,0.6,0.7,0.8],"labelExpr":"datum.value==0?'0':format(datum.value,'.1f')","title":"Re (Azx) \u2212 Im(Azy)","tickSize":-4,"labelPadding":10,"titlePadding":18}},
   "color":{"field":"h","type":"nominal","scale":{"domain":["0.1","0.2","0.3","t0.1","t0.2","t0.3","k"],"range":["#E41E26","#1B2FE0","#168C2D","#EE2430","#1F7FCF","#2DB24B","#111111"]},"legend":null}},
  "layer":[
   {"data":{"name":"lines"},"transform":[{"filter":"datum.s=='II'"}],
    "mark":{"type":"line","strokeCap":"round"},
    "encoding":{
     "strokeDash":{"field":"h","type":"nominal","scale":{"domain":["0.1","0.2","0.3"],"range":[[1,0],[6,5],[0.1,5]]},"legend":null},
     "strokeWidth":{"field":"h","type":"ordinal","scale":{"domain":["0.1","0.2","0.3"],"range":[1.7,2,2.6]},"legend":null},
     "detail":{"field":"c"}}},
   {"data":{"name":"labs"},"transform":[{"filter":"datum.s=='II' && datum.k=='H'"}],
    "mark":{"type":"text","text":"H\u0303","fontStyle":"italic","fontSize":17,"align":"right","baseline":"middle","dx":-2}},
   {"data":{"name":"labs"},"transform":[{"filter":"datum.s=='II' && datum.k=='H'"}],
    "mark":{"type":"text","fontSize":17,"align":"left","baseline":"middle","dx":1},
    "encoding":{"text":{"field":"v"}}},
   {"data":{"name":"labs"},"transform":[{"filter":"datum.s=='II' && (datum.k=='d' || datum.k=='v')"}],
    "mark":{"type":"text","fontSize":16,"align":"center","baseline":"middle"},
    "encoding":{"text":{"field":"v"}}},
   {"data":{"name":"labs"},"transform":[{"filter":"datum.s=='II' && datum.k=='d'"}],
    "mark":{"type":"text","text":"y","fontSize":11,"align":"left","baseline":"middle","dx":4,"dy":6}},
   {"data":{"name":"labs"},"transform":[{"filter":"datum.s=='II' && datum.k=='T'"}],
    "mark":{"type":"text","fontSize":18,"align":"center","baseline":"middle"},
    "encoding":{"text":{"field":"v"}}}
  ]}
 ],"spacing":21},
{"title":{"text":"(b)  Set II","anchor":"start","fontSize":18,"offset":-4},
 "hconcat":[
  {"width":165,"height":163,"view":{"stroke":null},
   "title":{"text":"p = 0.0 MPa","anchor":"end","frame":"group","fontSize":14,"offset":3},
   "data":{"name":"h1"},"mark":{"type":"rect"},
   "encoding":{
    "x":{"field":"x","type":"quantitative","bin":{"binned":true,"step":1.25},"scale":{"domain":[-10,10]},"axis":{"values":[-10,0,10],"format":"d","ticks":false,"labelFontSize":13,"labelPadding":2,"title":"x\u0303","titleFontStyle":"italic","titleFontSize":15,"titlePadding":1}},
    "y":{"field":"y","type":"quantitative","bin":{"binned":true,"step":1.25},"scale":{"domain":[-10,10]},"axis":{"values":[-10,0,10],"format":"d","ticks":false,"labelFontSize":13,"labelPadding":3,"title":"\u1ef9","titleAngle":0,"titleFontStyle":"italic","titleFontSize":15,"titlePadding":4,"titleBaseline":"middle"}},
    "color":{"field":"n","type":"quantitative","scale":{"domain":[0.5,0.55,0.6,0.65,0.7,0.745,0.8,0.85,0.9,0.95,1],"range":["#2B5590","#4467AC","#6A77A0","#8F7F82","#B58863","#E2974A","#EDB06A","#F4C585","#F9D79E","#FCE3AF","#FEF0C4"]},"legend":{"type":"gradient","title":"n\u209b","values":[0.5,1],"format":".1f","gradientLength":164,"gradientThickness":18,"titleFontStyle":"italic","titleFontSize":15,"labelFontSize":14,"offset":6,"direction":"vertical","gradientStrokeWidth":0}}}},
  {"width":164,"height":163,"view":{"stroke":null},
   "title":{"text":"p = 0.25 MPa","anchor":"end","frame":"group","fontSize":14,"offset":3},
   "data":{"name":"h2"},"mark":{"type":"rect"},
   "encoding":{
    "x":{"field":"x","type":"quantitative","bin":{"binned":true,"step":1.25},"scale":{"domain":[-10,10]},"axis":{"values":[-10,0,10],"format":"d","ticks":false,"labelFontSize":13,"labelPadding":2,"title":"x\u0303","titleFontStyle":"italic","titleFontSize":15,"titlePadding":1}},
    "y":{"field":"y","type":"quantitative","bin":{"binned":true,"step":1.25},"scale":{"domain":[-10,10]},"axis":{"values":[-10,0,10],"format":"d","ticks":false,"labelFontSize":13,"labelPadding":3,"title":null}},
    "color":{"field":"n","type":"quantitative","legend":{"type":"gradient","title":"n\u209b","values":[0.5,1],"format":".1f","gradientLength":164,"gradientThickness":18,"titleFontStyle":"italic","titleFontSize":15,"labelFontSize":14,"offset":6,"direction":"vertical","gradientStrokeWidth":0}}}},
  {"width":163,"height":163,"view":{"stroke":null},
   "title":{"text":"p = 0.5 MPa","anchor":"end","frame":"group","fontSize":14,"offset":3},
   "data":{"name":"h3"},"mark":{"type":"rect"},
   "encoding":{
    "x":{"field":"x","type":"quantitative","bin":{"binned":true,"step":1.25},"scale":{"domain":[-10,10]},"axis":{"values":[-10,0,10],"format":"d","ticks":false,"labelFontSize":13,"labelPadding":2,"title":"x\u0303","titleFontStyle":"italic","titleFontSize":15,"titlePadding":1}},
    "y":{"field":"y","type":"quantitative","bin":{"binned":true,"step":1.25},"scale":{"domain":[-10,10]},"axis":{"values":[-10,0,10],"format":"d","ticks":false,"labelFontSize":13,"labelPadding":3,"title":null}},
    "color":{"field":"n","type":"quantitative","legend":{"type":"gradient","title":"n\u209b","values":[0.5,1],"format":".1f","gradientLength":164,"gradientThickness":18,"titleFontStyle":"italic","titleFontSize":15,"labelFontSize":14,"offset":6,"direction":"vertical","gradientStrokeWidth":0}}}}
 ],"spacing":6}
]
}
